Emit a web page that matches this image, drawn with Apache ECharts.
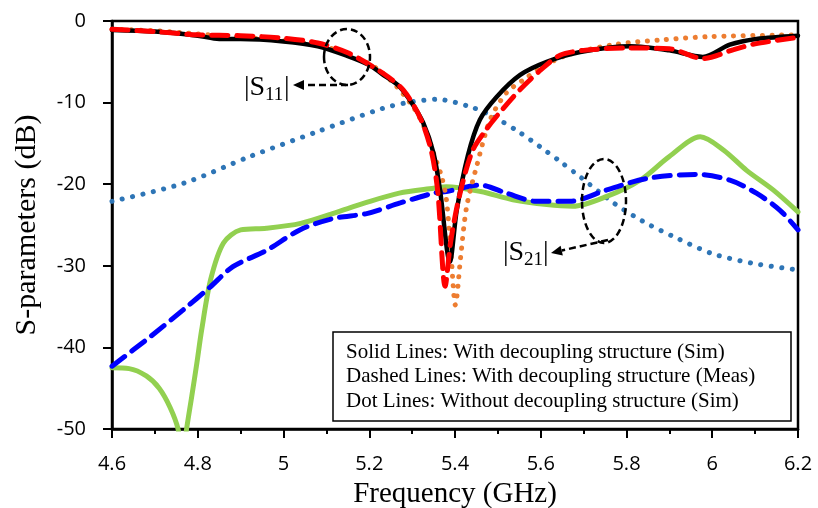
<!DOCTYPE html>
<html>
<head>
<meta charset="utf-8">
<script src="https://cdn.jsdelivr.net/npm/echarts@6/dist/echarts.min.js"></script>
<style>
  html, body { margin: 0; padding: 0; background: #fff; }
  #chart { width: 818px; height: 508px; }
</style>
</head>
<body>
<div id="chart"></div>
<script>
// |S11| with decoupling structure, simulated (solid black)
const s11SimF = [4.6, 4.7, 4.8, 4.85, 4.9, 5.0, 5.08, 5.15, 5.2, 5.23, 5.27, 5.3, 5.326, 5.35, 5.365, 5.388, 5.404, 5.43, 5.458, 5.497, 5.552, 5.614, 5.692, 5.808, 5.9, 5.978, 6.041, 6.103, 6.2];
const s11SimDb = [-1.1, -1.3, -1.8, -2.2, -2.2, -2.5, -3.1, -4.3, -5.4, -6.5, -8.0, -10.1, -12.5, -16.2, -20.7, -29.5, -23.2, -16.5, -12.1, -9.3, -6.6, -5.0, -3.8, -3.1, -3.6, -4.4, -2.9, -2.2, -1.8];

// |S11| with decoupling structure, measured (dashed red)
const s11MeasF = [4.6, 4.7, 4.8, 4.9, 5.0, 5.08, 5.15, 5.232, 5.28, 5.32, 5.345, 5.36, 5.377, 5.39, 5.41, 5.44, 5.47, 5.5, 5.55, 5.6, 5.645, 5.7, 5.8, 5.9, 5.978, 6.05, 6.1, 6.2];
const s11MeasDb = [-1.0, -1.3, -1.7, -1.8, -2.1, -2.7, -3.9, -6.4, -8.5, -12.0, -16.0, -21.0, -32.5, -27.0, -21.5, -16.0, -13.5, -11.5, -8.5, -6.0, -4.2, -3.6, -3.3, -3.4, -4.6, -3.5, -2.8, -2.0];

// |S11| without decoupling structure, simulated (dotted orange)
const s11NoF = [4.6, 4.7, 4.8, 4.9, 5.0, 5.08, 5.15, 5.23, 5.302, 5.334, 5.35, 5.369, 5.38, 5.39, 5.401, 5.413, 5.427, 5.45, 5.482, 5.52, 5.56, 5.605, 5.66, 5.77, 5.885, 6.0, 6.2];
const s11NoDb = [-1.0, -1.2, -1.6, -2.0, -2.4, -3.0, -4.0, -6.3, -10.5, -13.7, -16.2, -19.1, -21.9, -28.0, -34.8, -29.0, -22.8, -17.9, -12.1, -8.8, -7.2, -5.6, -4.2, -2.9, -2.3, -1.9, -1.7];

// |S21| with decoupling structure, simulated (solid green)
const s21SimF = [4.6, 4.64, 4.68, 4.71, 4.735, 4.754, 4.764, 4.774, 4.786, 4.798, 4.809, 4.83, 4.86, 4.9, 4.96, 5.04, 5.12, 5.19, 5.27, 5.35, 5.38, 5.46, 5.535, 5.614, 5.675, 5.754, 5.832, 5.9, 5.972, 6.026, 6.08, 6.142, 6.2];
const s21SimDb = [-42.5, -42.6, -43.5, -45.0, -47.3, -50.0, -54.0, -50.0, -46.0, -41.9, -37.9, -31.7, -27.2, -25.6, -25.4, -24.8, -23.5, -22.3, -21.1, -20.5, -20.3, -20.9, -21.9, -22.5, -22.7, -21.5, -19.5, -16.6, -14.2, -15.8, -18.3, -20.7, -23.4];

// |S21| with decoupling structure, measured (dashed blue)
const s21MeasF = [4.6, 4.689, 4.766, 4.829, 4.882, 4.961, 5.038, 5.116, 5.194, 5.272, 5.35, 5.38, 5.458, 5.52, 5.59, 5.668, 5.754, 5.847, 5.964, 6.041, 6.103, 6.158, 6.2];
const s21MeasDb = [-42.3, -38.7, -35.4, -32.6, -30.1, -28.1, -25.6, -24.2, -23.6, -22.3, -21.1, -20.9, -20.1, -21.1, -22.1, -22.1, -20.7, -19.3, -18.8, -19.5, -21.1, -23.2, -25.6];

// |S21| without decoupling structure, simulated (dotted steel blue)
const s21NoF = [4.6, 4.766, 4.922, 5.077, 5.232, 5.3, 5.357, 5.435, 5.489, 5.552, 5.598, 5.645, 5.692, 5.77, 5.84, 5.909, 6.0, 6.095, 6.2];
const s21NoDb = [-22.1, -19.9, -16.6, -13.6, -10.7, -9.9, -9.6, -10.5, -11.7, -13.7, -15.4, -17.2, -19.1, -22.3, -24.6, -26.4, -28.5, -29.7, -30.5];

const legendLines = [
  "Solid Lines: With decoupling structure (Sim)",
  "Dashed Lines: With decoupling structure (Meas)",
  "Dot Lines: Without decoupling structure (Sim)",
];

const pairs = (xs, ys) => xs.map((x, i) => [x, ys[i]]);

const serif = "'Liberation Serif', 'Times New Roman', serif";
const sans = "'Open Sans', 'Liberation Sans', sans-serif";

const chart = echarts.init(document.getElementById("chart"));

const lineSeries = (name, xs, ys, color, type, width) => ({
  name: name,
  type: "line",
  data: pairs(xs, ys),
  showSymbol: false,
  smooth: 0.3,
  clip: true,
  lineStyle: { color: color, width: width, type: type, cap: "round" },
  z: 2,
});

// arrow = dashed shaft + filled head
function arrow(x1, y1, x2, y2) {
  const dx = x2 - x1, dy = y2 - y1;
  const len = Math.sqrt(dx * dx + dy * dy);
  const ux = dx / len, uy = dy / len;
  const hl = 11, hw = 5;
  const bx = x2 - ux * hl, by = y2 - uy * hl;
  return [
    {
      type: "line",
      shape: { x1: x1, y1: y1, x2: bx, y2: by },
      style: { stroke: "#000", lineWidth: 2.5, lineDash: [7, 4] },
      z: 10,
    },
    {
      type: "polygon",
      shape: { points: [[x2, y2], [bx - uy * hw, by + ux * hw], [bx + uy * hw, by - ux * hw]] },
      style: { fill: "#000" },
      z: 10,
    },
  ];
}

function sLabel(x, y, sub) {
  return [
    { type: "text", x: x, y: y, style: { text: "|S", font: "28px " + serif, fill: "#000", verticalAlign: "middle" }, z: 10 },
    { type: "text", x: x + 21, y: y + 7, style: { text: sub, font: "19px " + serif, fill: "#000", verticalAlign: "middle" }, z: 10 },
    { type: "text", x: x + 40, y: y, style: { text: "|", font: "28px " + serif, fill: "#000", verticalAlign: "middle" }, z: 10 },
  ];
}

const graphics = [
  {
    type: "ellipse",
    shape: { cx: 347, cy: 57, rx: 23, ry: 28 },
    style: { fill: "none", stroke: "#000", lineWidth: 2.5, lineDash: [7, 4] },
    z: 10,
  },
  {
    type: "ellipse",
    shape: { cx: 604, cy: 201, rx: 22, ry: 42 },
    style: { fill: "none", stroke: "#000", lineWidth: 2.5, lineDash: [7, 4] },
    z: 10,
  },
  ...arrow(348, 85, 293, 85),
  ...arrow(608, 240, 551, 253),
  ...sLabel(244, 88, "11"),
  ...sLabel(503, 253, "21"),
  {
    type: "rect",
    shape: { x: 333, y: 332, width: 458, height: 89 },
    style: { fill: "#fff", stroke: "#000", lineWidth: 1.5 },
    z: 10,
  },
];

legendLines.forEach((t, i) => {
  graphics.push({
    type: "text",
    x: 346,
    y: 352 + i * 24.7,
    style: { text: t, font: "21px " + serif, fill: "#000", verticalAlign: "middle" },
    z: 11,
  });
});

const option = {
  animation: false,
  backgroundColor: "#fff",
  grid: {
    left: 112,
    top: 21,
    right: 20,
    bottom: 79,
    outerBoundsMode: "none",
    containLabel: false,
    show: true,
    borderColor: "#000",
    borderWidth: 2.5,
    backgroundColor: "transparent",
  },
  xAxis: {
    type: "value",
    min: 4.6,
    max: 6.2,
    interval: 0.2,
    name: "Frequency (GHz)",
    nameLocation: "middle",
    nameGap: 51,
    nameTextStyle: { fontFamily: serif, fontSize: 29, color: "#000" },
    axisLine: { onZero: false, lineStyle: { color: "#000", width: 2.5 } },
    axisTick: { length: 9, lineStyle: { color: "#000", width: 2 } },
    minorTick: { show: true, splitNumber: 2, length: 5, lineStyle: { color: "#000", width: 2 } },
    splitLine: { show: false },
    axisLabel: {
      margin: 25,
      fontFamily: sans,
      fontSize: 20,
      color: "#000",
      formatter: (v) => String(+v.toFixed(1)),
    },
  },
  yAxis: {
    type: "value",
    min: -50,
    max: 0,
    interval: 10,
    name: "S-parameters (dB)",
    nameLocation: "middle",
    nameGap: 70,
    nameRotate: 90,
    nameTextStyle: { fontFamily: serif, fontSize: 30, color: "#000" },
    axisLine: { onZero: false, lineStyle: { color: "#000", width: 2.5 } },
    axisTick: { show: true, length: 9, lineStyle: { color: "#000", width: 2 } },
    splitLine: { show: false },
    axisLabel: { margin: 26, fontFamily: sans, fontSize: 20, color: "#000" },
  },
  series: [
    lineSeries("|S21| w/o (Sim)", s21NoF, s21NoDb, "#2e75b6", [0.1, 10.5], 5),
    lineSeries("|S21| with (Sim)", s21SimF, s21SimDb, "#92d050", "solid", 5),
    lineSeries("|S21| with (Meas)", s21MeasF, s21MeasDb, "#0000ff", [16, 9], 5),
    lineSeries("|S11| w/o (Sim)", s11NoF, s11NoDb, "#ed7d31", [0.1, 9.5], 5),
    lineSeries("|S11| with (Sim)", s11SimF, s11SimDb, "#000000", "solid", 4.5),
    lineSeries("|S11| with (Meas)", s11MeasF, s11MeasDb, "#ff0000", [16, 9], 5),
  ],
  graphic: graphics,
};

chart.setOption(option);
</script>
</body>
</html>
